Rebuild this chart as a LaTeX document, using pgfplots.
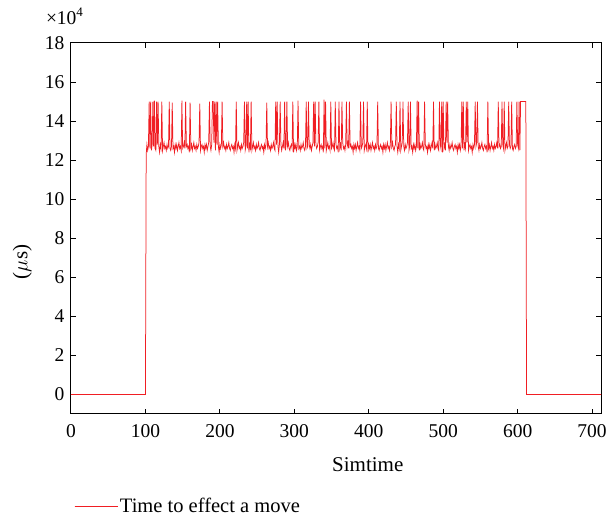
\documentclass[border=0pt]{standalone}
\usepackage{fontspec}
\setmainfont{Liberation Serif}
\usepackage{pgfplots}
\pgfplotsset{compat=1.18}
\definecolor{lred}{RGB}{240,30,35}
\begin{document}
\fontsize{19.5}{23}\selectfont
\begin{tikzpicture}
\useasboundingbox (0,0) rectangle (606pt,521pt);
\begin{axis}[
  at={(71pt,107pt)}, anchor=south west,
  scale only axis, width=530pt, height=371pt,
  xmin=0, xmax=712, ymin=-1, ymax=18,
  xtick={0,100,...,700}, ytick={0,2,...,18},
  scaled ticks=false,
  /pgf/number format/assume math mode=true,
  tick align=inside,
  major tick length=5pt,
  axis line style={line width=1pt},
  every tick/.style={line width=1pt, black},
  xticklabel style={yshift=-4pt},
  xlabel={Simtime},
  xlabel style={at={(axis description cs:0.56,0)}, anchor=north, yshift=-37pt, font=\fontsize{21}{25}\selectfont},
  ylabel={($\mu$s)},
  ylabel style={at={(axis description cs:-0.092,0.41)}, anchor=center, font=\fontsize{21}{25}\selectfont},
  legend style={at={(axis description cs:0.0,-0.25)}, anchor=west, draw=none, fill=none, font=\fontsize{20.5}{24}\selectfont},
  legend cell align=left,
  legend image code/.code={\draw[#1] (0pt,0pt) -- (34pt,0pt); \path (0pt,0pt) -- (43pt,0pt);},
  clip=true,
]
\addplot[lred, line width=0.75pt] coordinates {
(0,0) (100,0)
(101,12.3) (102,12.8) (103,12.5) (104,12.7) (105,15.0) (106,12.6) (107,15.0) (108,12.5) (109,12.8) (110,15.0)
(111,12.7) (112,15.05) (113,12.6) (114,12.5) (115,15.0) (116,12.8) (117,15.0) (118,12.7) (119,12.4) (120,12.8)
(121,12.6) (122,15.0) (123,12.5) (124,12.7) (125,12.9) (126,12.6) (127,12.7) (128,12.5) (129,12.8) (130,12.6)
(131,12.7) (132,15.0) (133,12.6) (134,12.5) (135,12.7) (136,14.95) (137,12.6) (138,12.7) (139,12.4) (140,12.8)
(141,12.6) (142,12.8) (143,12.5) (144,12.7) (145,12.9) (146,12.6) (147,12.7) (148,12.5) (149,15.05) (150,12.6)
(151,12.7) (152,12.9) (153,12.6) (154,15.0) (155,12.7) (156,12.8) (157,12.6) (158,12.7) (159,12.4) (160,14.95)
(161,12.6) (162,12.8) (163,12.5) (164,12.7) (165,12.9) (166,12.6) (167,12.7) (168,12.5) (169,12.8) (170,12.6)
(171,12.7) (172,12.9) (173,14.9) (174,12.5) (175,12.7) (176,12.8) (177,12.6) (178,12.7) (179,12.4) (180,12.8)
(181,12.6) (182,12.8) (183,12.5) (184,12.7) (185,12.9) (186,15.0) (187,12.7) (188,12.5) (189,12.8) (190,15.0)
(191,15.0) (192,12.9) (193,15.0) (194,12.5) (195,15.0) (196,12.8) (197,15.0) (198,12.7) (199,12.4) (200,12.8)
(201,12.6) (202,12.8) (203,15.0) (204,12.7) (205,12.9) (206,12.6) (207,12.7) (208,12.5) (209,12.8) (210,12.6)
(211,12.7) (212,12.9) (213,12.6) (214,12.5) (215,12.7) (216,12.8) (217,12.6) (218,12.7) (219,12.4) (220,12.8)
(221,12.6) (222,15.0) (223,12.5) (224,12.7) (225,12.9) (226,12.6) (227,12.7) (228,12.5) (229,12.8) (230,12.6)
(231,12.7) (232,12.9) (233,15.0) (234,12.5) (235,12.7) (236,15.0) (237,12.6) (238,15.0) (239,12.4) (240,12.8)
(241,12.6) (242,15.0) (243,12.5) (244,12.7) (245,12.9) (246,12.6) (247,12.7) (248,12.5) (249,12.8) (250,12.6)
(251,12.7) (252,12.9) (253,12.6) (254,12.5) (255,12.7) (256,12.8) (257,12.6) (258,12.7) (259,12.4) (260,12.8)
(261,12.6) (262,12.8) (263,14.95) (264,12.7) (265,12.9) (266,12.6) (267,12.7) (268,12.5) (269,12.8) (270,12.6)
(271,12.7) (272,12.9) (273,12.6) (274,12.5) (275,15.0) (276,12.8) (277,15.0) (278,12.7) (279,12.4) (280,12.8)
(281,15.0) (282,12.8) (283,12.5) (284,12.7) (285,12.9) (286,12.6) (287,15.0) (288,12.5) (289,12.8) (290,15.0)
(291,12.7) (292,12.9) (293,12.6) (294,12.5) (295,12.7) (296,12.8) (297,12.6) (298,15.0) (299,12.4) (300,12.8)
(301,12.6) (302,12.8) (303,12.5) (304,12.7) (305,15.05) (306,12.6) (307,12.7) (308,12.5) (309,12.8) (310,12.6)
(311,12.7) (312,12.9) (313,12.6) (314,12.5) (315,12.7) (316,15.0) (317,12.6) (318,12.7) (319,15.0) (320,12.8)
(321,12.6) (322,12.8) (323,12.5) (324,12.7) (325,12.9) (326,15.0) (327,12.7) (328,15.0) (329,12.8) (330,12.6)
(331,12.7) (332,12.9) (333,15.0) (334,12.5) (335,12.7) (336,12.8) (337,12.6) (338,12.7) (339,12.4) (340,15.1)
(341,12.6) (342,15.0) (343,12.5) (344,12.7) (345,12.9) (346,12.6) (347,12.7) (348,12.5) (349,15.0) (350,12.6)
(351,12.7) (352,12.9) (353,12.6) (354,12.5) (355,15.0) (356,12.8) (357,12.6) (358,12.7) (359,12.4) (360,15.0)
(361,12.6) (362,12.8) (363,12.5) (364,15.0) (365,12.9) (366,12.6) (367,12.7) (368,12.5) (369,12.8) (370,15.0)
(371,12.7) (372,12.9) (373,12.6) (374,15.0) (375,12.7) (376,12.8) (377,12.6) (378,12.7) (379,12.4) (380,12.8)
(381,12.6) (382,12.8) (383,12.5) (384,12.7) (385,12.9) (386,12.6) (387,12.7) (388,12.5) (389,15.0) (390,12.6)
(391,12.7) (392,12.9) (393,15.0) (394,12.5) (395,12.7) (396,12.8) (397,12.6) (398,15.0) (399,12.4) (400,12.8)
(401,12.6) (402,12.8) (403,12.5) (404,12.7) (405,12.9) (406,12.6) (407,12.7) (408,12.5) (409,12.8) (410,12.6)
(411,12.7) (412,15.0) (413,12.6) (414,12.5) (415,12.7) (416,12.8) (417,12.6) (418,12.7) (419,12.4) (420,12.8)
(421,12.6) (422,12.8) (423,12.5) (424,12.7) (425,12.9) (426,12.6) (427,12.7) (428,12.5) (429,12.8) (430,15.0)
(431,12.7) (432,12.9) (433,12.6) (434,12.5) (435,12.7) (436,12.8) (437,15.0) (438,12.7) (439,12.4) (440,12.8)
(441,12.6) (442,15.0) (443,12.5) (444,12.7) (445,12.9) (446,15.0) (447,12.7) (448,12.5) (449,12.8) (450,12.6)
(451,12.7) (452,12.9) (453,15.0) (454,12.5) (455,12.7) (456,15.0) (457,12.6) (458,12.7) (459,12.4) (460,12.8)
(461,12.6) (462,12.8) (463,12.5) (464,12.7) (465,15.05) (466,12.6) (467,15.0) (468,12.5) (469,12.8) (470,12.6)
(471,12.7) (472,12.9) (473,12.6) (474,12.5) (475,15.0) (476,12.8) (477,12.6) (478,12.7) (479,12.4) (480,12.8)
(481,12.6) (482,12.8) (483,12.5) (484,12.7) (485,12.9) (486,12.6) (487,15.0) (488,12.5) (489,12.8) (490,12.6)
(491,12.7) (492,12.9) (493,12.6) (494,12.5) (495,15.0) (496,12.8) (497,12.6) (498,15.0) (499,12.4) (500,15.0)
(501,12.6) (502,12.8) (503,12.5) (504,15.0) (505,12.9) (506,15.0) (507,12.7) (508,12.5) (509,12.8) (510,12.6)
(511,12.7) (512,12.9) (513,12.6) (514,12.5) (515,12.7) (516,12.8) (517,12.6) (518,12.7) (519,12.4) (520,12.8)
(521,12.6) (522,12.8) (523,12.5) (524,12.7) (525,15.0) (526,12.6) (527,15.0) (528,12.5) (529,12.8) (530,12.6)
(531,15.0) (532,12.9) (533,15.0) (534,12.5) (535,12.7) (536,12.8) (537,12.6) (538,12.7) (539,12.4) (540,12.8)
(541,12.6) (542,12.8) (543,15.0) (544,12.7) (545,12.9) (546,15.0) (547,12.7) (548,12.5) (549,12.8) (550,12.6)
(551,12.7) (552,12.9) (553,12.6) (554,12.5) (555,12.7) (556,12.8) (557,12.6) (558,12.7) (559,12.4) (560,15.0)
(561,12.6) (562,12.8) (563,12.5) (564,12.7) (565,12.9) (566,12.6) (567,12.7) (568,12.5) (569,12.8) (570,12.6)
(571,12.7) (572,12.9) (573,12.6) (574,15.0) (575,12.7) (576,12.8) (577,12.6) (578,12.7) (579,15.0) (580,12.8)
(581,12.6) (582,15.0) (583,12.5) (584,12.7) (585,12.9) (586,12.6) (587,12.7) (588,15.0) (589,12.8) (590,12.6)
(591,12.7) (592,15.0) (593,12.6) (594,12.5) (595,12.7) (596,12.8) (597,12.6) (598,12.7) (599,15.0) (600,12.8)
(601,12.6) (602,15.0) (603,12.5) (604,15.0) (605,15.0) (606,15.0) (607,15.0) (608,15.0) (609,15.0) (610,15.0)
(611,15.0) (612,0) (712,0)
};
\addlegendentry{Time to effect a move}
\end{axis}
\node[anchor=base, inner sep=0pt] at ([xshift=-6.5pt, yshift=18pt]current axis.north west) {\fontsize{19.5}{23}\selectfont ×10\raisebox{0.42em}{\fontsize{13}{15}\selectfont 4}};
\end{tikzpicture}
\end{document}
